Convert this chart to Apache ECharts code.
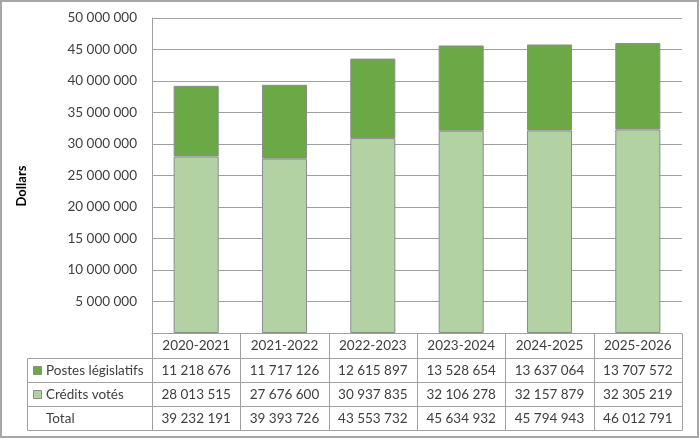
<!DOCTYPE html>
<html><head><meta charset="utf-8">
<script src="https://cdn.jsdelivr.net/npm/echarts@6/dist/echarts.min.js"></script>
<style>html,body{margin:0;padding:0;background:#fff}#c{width:700px;height:440px}</style>
</head><body><div id="c"></div>
<script>
const categories = ['2020-2021','2021-2022','2022-2023','2023-2024','2024-2025','2025-2026'];
const postesLegislatifs = [11218676, 11717126, 12615897, 13528654, 13637064, 13707572];
const creditsVotes = [28013515, 27676600, 30937835, 32106278, 32157879, 32305219];
const totals = [39232191, 39393726, 43553732, 45634932, 45794943, 46012791];
const seriesNames = ['Postes législatifs', 'Crédits votés', 'Total'];
const yTicks = {min: 0, max: 50000000, interval: 5000000};

const DARK = '#6aa946', LIGHT = '#b2d2a4', BORDER = '#8c8c8c', LINE = '#a0a0a0', TXT = '#404040';
const FONT = 'Lato';
const fmt = v => String(v).replace(/\B(?=(\d{3})+(?!\d))/g, ' ');

const chart = echarts.init(document.getElementById('c'), null, {renderer: 'canvas'});
const option = {
  animation: false,
  grid: {left: 152, right: 18, top: 18, bottom: 107},
  xAxis: {
    type: 'category', data: categories,
    axisLine: {show: true, lineStyle: {color: LINE, width: 1}},
    axisTick: {show: false}, axisLabel: {show: false}, splitLine: {show: false}
  },
  yAxis: {
    type: 'value', min: yTicks.min, max: yTicks.max, interval: yTicks.interval,
    axisLine: {show: true, lineStyle: {color: LINE, width: 1}},
    axisTick: {show: false},
    splitLine: {show: true, lineStyle: {color: LINE, width: 1}},
    axisLabel: {color: TXT, fontFamily: FONT, fontSize: 13.5, margin: 15,
      formatter: v => v === 0 ? '' : fmt(v)}
  },
  series: [
    {name: seriesNames[1], type: 'bar', stack: 't', data: creditsVotes, barWidth: '51%',
     itemStyle: {color: LIGHT, borderColor: BORDER, borderWidth: 1}},
    {name: seriesNames[0], type: 'bar', stack: 't', data: postesLegislatifs, barWidth: '51%',
     itemStyle: {color: DARK, borderColor: BORDER, borderWidth: 1}}
  ],
  graphic: []
};
chart.setOption(option);

function buildTable() {
  const g = [];
  const y0 = Math.round(chart.convertToPixel({yAxisIndex: 0}, 0)) + 0.5;
  const c0 = chart.convertToPixel({xAxisIndex: 0}, 0);
  const c1 = chart.convertToPixel({xAxisIndex: 0}, 1);
  const colW = c1 - c0;
  const left = c0 - colW / 2;
  const right = left + colW * categories.length;
  const labelLeft = 27.5;
  const rowH = [25, 24, 24, 24];
  const ys = [y0];
  rowH.forEach(h => ys.push(ys[ys.length - 1] + h));
  const ls = {stroke: LINE, lineWidth: 1};
  // horizontal lines
  ys.forEach((y, i) => {
    g.push({type: 'line', shape: {x1: i === 0 ? left : labelLeft, y1: y, x2: right, y2: y}, style: ls, silent: true});
  });
  // vertical lines
  g.push({type: 'line', shape: {x1: labelLeft, y1: ys[1], x2: labelLeft, y2: ys[4]}, style: ls, silent: true});
  for (let i = 0; i <= categories.length; i++) {
    const x = Math.round(left + i * colW) + 0.5;
    g.push({type: 'line', shape: {x1: x, y1: ys[0], x2: x, y2: ys[4]}, style: ls, silent: true});
  }
  const txt = (x, y, s, align) => ({type: 'text', x: x, y: y, silent: true,
    style: {text: s, fill: TXT, font: '13.5px ' + FONT, textAlign: align || 'center', textVerticalAlign: 'middle'}});
  const rows = [categories, postesLegislatifs.map(fmt), creditsVotes.map(fmt), totals.map(fmt)];
  rows.forEach((r, ri) => {
    const yc = (ys[ri] + ys[ri + 1]) / 2;
    r.forEach((s, ci) => {
      const xc = chart.convertToPixel({xAxisIndex: 0}, ci);
      g.push(txt(xc, yc, s));
    });
  });
  // legend-like labels
  const swatch = [DARK, LIGHT, null];
  seriesNames.forEach((n, i) => {
    const yc = (ys[i + 1] + ys[i + 2]) / 2;
    if (swatch[i]) {
      g.push({type: 'rect', shape: {x: 33.5, y: Math.round(yc) - 4.5, width: 8, height: 8},
        style: {fill: swatch[i], stroke: BORDER, lineWidth: 1}, silent: true});
    }
    g.push(txt(46, yc, n, 'left'));
  });
  // axis title
  g.push({type: 'text', x: 22, y: 186, rotation: Math.PI / 2, silent: true,
    style: {text: 'Dollars', fill: '#000', font: 'bold 13px ' + FONT, textAlign: 'center', textVerticalAlign: 'middle'}});
  // outer frame
  g.push({type: 'rect', shape: {x: 1, y: 1, width: 697, height: 436},
    style: {fill: 'none', stroke: '#a6a6a6', lineWidth: 2}, silent: true});
  chart.setOption({graphic: g});
}
buildTable();
</script></body></html>
